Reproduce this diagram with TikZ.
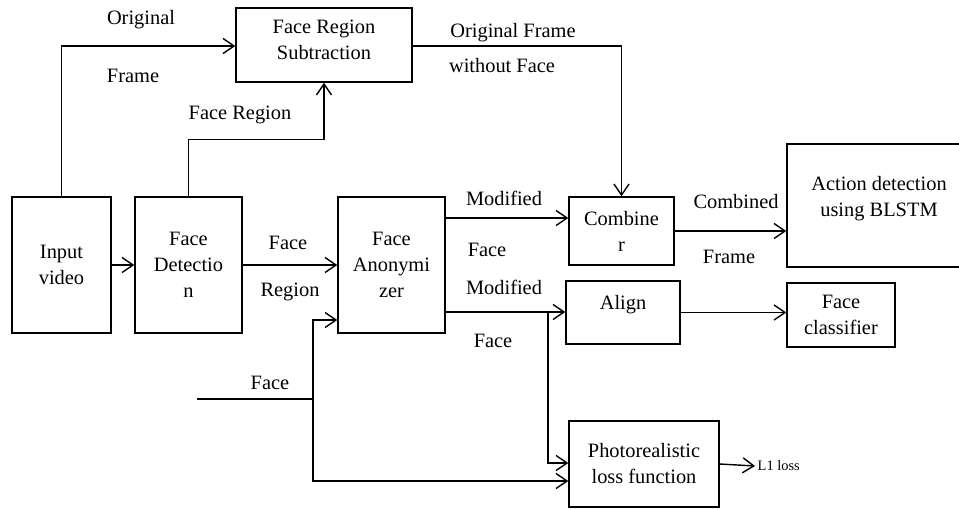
\documentclass[tikz,border=0pt]{standalone}
\usepackage{fontspec}
\setmainfont{Liberation Serif}
\usetikzlibrary{arrows.meta}

\begin{document}
\begin{tikzpicture}[x=0.5pt, y=-0.5pt, line width=0.7pt,
    box/.style={draw, align=center, inner sep=1pt, font=\fontsize{10.2}{13}\selectfont},
    lbl/.style={inner sep=1pt, font=\fontsize{10.2}{13}\selectfont},
    arr/.style={-{Straight Barb[length=5.5pt,width=7.5pt]}}]
    \clip (0,0) rectangle (959,509);
    % blocks (pixel coordinates, y going down)
    \node[box, minimum width=88pt, minimum height=37pt] (frs) at (324,45) {Face Region\\Subtraction\\[-8pt]~};
    \node[box, minimum width=49.5pt, minimum height=68pt] (inp) at (61.5,265) {Input\\video};
    \node[box, minimum width=53.5pt, minimum height=68pt] (det) at (188.5,265) {Face\\Detectio\\n};
    \node[box, minimum width=53.5pt, minimum height=68pt] (anon) at (391.5,265) {Face\\Anonymi\\zer};
    \node[box, minimum width=52.5pt, minimum height=34pt] (comb) at (621.5,231) {Combine\\r};
    % the right side of this block runs off the picture
    \node[box, minimum width=92pt, minimum height=61.5pt] (act) at (879,205.5) {Action detection\\using BLSTM\\[-4pt]~};
    \node[box, minimum width=57pt, minimum height=31.5pt] (aln) at (623,312.5) {Align\\[-3pt]~};
    \node[box, minimum width=54pt, minimum height=32pt] (cls) at (841,315) {Face\\classifier};
    \node[box, minimum width=75pt, minimum height=43pt] (photo) at (644,464) {Photorealistic\\loss function};
    \node[inner sep=1pt, anchor=west, font=\fontsize{7.2}{9}\selectfont] (loss) at (755,466) {L1 loss};
    \coordinate (faceIn) at (197,399);
    \coordinate (jn) at (313,399);
    \coordinate (br) at (548,312);

    % connectors
    \draw[arr] (inp.north) |- ([yshift=-0.5pt]frs.west);
    \draw[arr] (det.north) -- ++(0,-57) -| (frs.south);
    \draw[arr] ([yshift=-0.5pt]frs.east) -| (comb.north);
    \draw[arr] (inp) -- (det);
    \draw[arr] (det) -- (anon);
    \draw[arr] ([yshift=23.5pt]anon.east) -- ([yshift=23.5pt]anon.east -| comb.west);
    \draw[arr] (comb.east) -- (comb.east -| act.west);
    \draw[arr] ([yshift=-23.5pt]anon.east) -- ([yshift=-23.5pt]anon.east -| aln.west);
    \draw[arr] (br) |- ([yshift=0.5pt]photo.west);
    \draw[arr] (aln.east) -- (aln.east -| cls.west);
    \draw[arr] (photo.east) -- (loss.west);
    \draw (faceIn) -- (jn);
    \draw[arr] (jn) |- ([yshift=-27.5pt]anon.west);
    \draw[arr] (jn) |- ([yshift=-8.5pt]photo.west);

    % labels
    \node[lbl] (lOrig) at (141,20) {Original};
    \node[lbl] (lFrame) at (133,76) {Frame};
    \node[lbl] (lFReg) at (240,115) {Face Region};
    \node[lbl] (lOrigF) at (513,33) {Original Frame};
    \node[lbl] (lWout) at (502,66) {without Face};
    \node[lbl] (lFace) at (288,243) {Face};
    \node[lbl] (lRegion) at (290,292) {Region};
    \node[lbl] (lMod) at (504,198) {Modified};
    \node[lbl] (lMFace) at (487,250) {Face};
    \node[lbl] (lMod2) at (504,287) {Modified};
    \node[lbl] (lMFace2) at (493,341) {Face};
    \node[lbl] (lComb) at (736,202) {Combined};
    \node[lbl] (lCFrame) at (729,257) {Frame};
    \node[lbl] (lFaceIn) at (270,383) {Face};
\end{tikzpicture}
\end{document}
